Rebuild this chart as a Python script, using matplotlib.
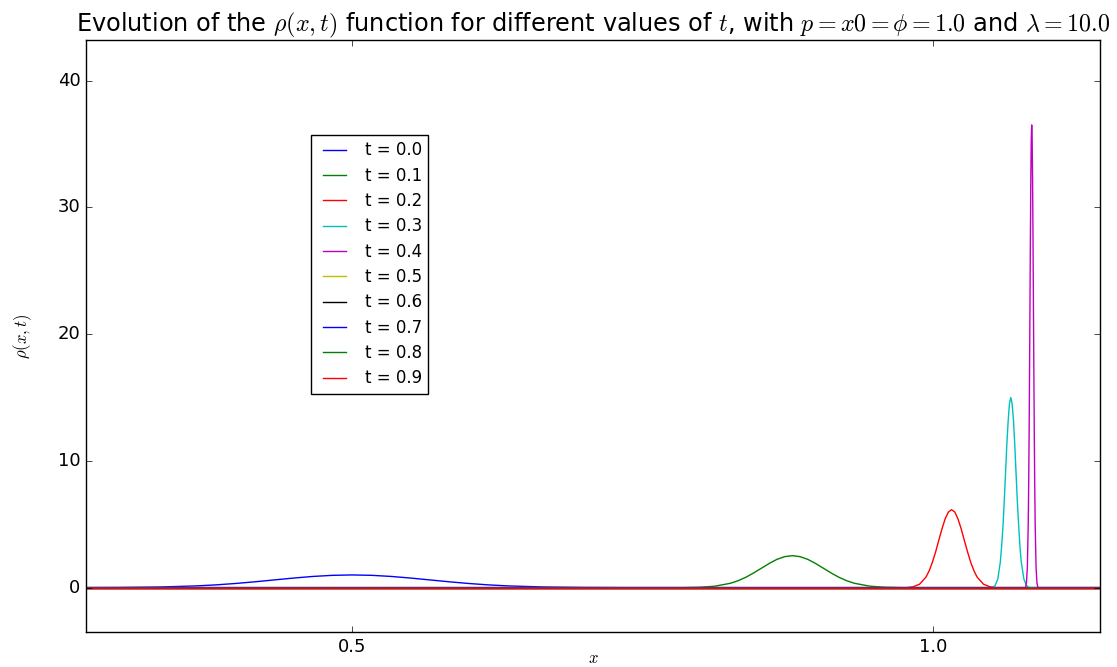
#!/usr/bin/env python3
"""Evolution of rho(x, t) for several t values (classic matplotlib look)."""

import matplotlib

matplotlib.use("Agg")
import matplotlib.pyplot as plt

plt.style.use("classic")

OUTPUT = "out.png"

X_MIN, X_MAX = 0.271, 1.144

T_VALUES = [0.0, 0.1, 0.2, 0.3, 0.4, 0.5, 0.6, 0.7, 0.8, 0.9]
COLORS = ["b", "g", "r", "c", "m", "y", "k", "b", "g", "r"]

# points, one bump per curve (zero elsewhere)
X_T00 = [0.271, 0.299, 0.3325, 0.366, 0.3828, 0.3995, 0.4163, 0.433, 0.4498, 0.4665, 0.4833, 0.5,
         0.5168, 0.5335, 0.5503, 0.567, 0.5838, 0.6005, 0.6173, 0.634, 0.6675, 0.701, 0.7345, 1.144]
RHO_T00 = [0, 0.011, 0.044, 0.135, 0.216, 0.325, 0.458, 0.607, 0.755, 0.883, 0.969, 1.0,
           0.969, 0.883, 0.755, 0.607, 0.458, 0.325, 0.216, 0.135, 0.044, 0.011, 0, 0]

X_T01 = [0.271, 0.7855, 0.7989, 0.8122, 0.8256, 0.8323, 0.839, 0.8456, 0.8523, 0.859, 0.8656, 0.8723, 0.879,
         0.8857, 0.8924, 0.899, 0.9057, 0.9124, 0.919, 0.9257, 0.9324, 0.9458, 0.9591, 0.9725, 1.144]
RHO_T01 = [0, 0, 0.028, 0.111, 0.341, 0.545, 0.818, 1.154, 1.528, 1.902, 2.224, 2.442, 2.52,
           2.442, 2.224, 1.902, 1.528, 1.154, 0.818, 0.545, 0.341, 0.111, 0.028, 0, 0]

X_T02 = [0.271, 0.9775, 0.983, 0.9885, 0.994, 0.9968, 0.9995, 1.0023, 1.005, 1.0078, 1.0105, 1.0133, 1.016,
         1.0188, 1.0215, 1.0243, 1.027, 1.0298, 1.0325, 1.0353, 1.038, 1.0435, 1.049, 1.0545, 1.144]
RHO_T02 = [0, 0, 0.068, 0.27, 0.832, 1.33, 1.997, 2.815, 3.73, 4.642, 5.427, 5.961, 6.15,
           5.961, 5.427, 4.642, 3.73, 2.815, 1.997, 1.33, 0.832, 0.27, 0.068, 0, 0]

X_T03 = [0.271, 1.0513, 1.0535, 1.0558, 1.058, 1.0591, 1.0603, 1.0614, 1.0625, 1.0636, 1.0648, 1.0659, 1.067,
         1.0681, 1.0693, 1.0704, 1.0715, 1.0726, 1.0738, 1.0749, 1.076, 1.0783, 1.0805, 1.0828, 1.144]
RHO_T03 = [0, 0, 0.17, 0.66, 2.03, 3.24, 4.87, 6.87, 9.1, 11.32, 13.24, 14.54, 15.0,
           14.54, 13.24, 11.32, 9.1, 6.87, 4.87, 3.24, 2.03, 0.66, 0.17, 0, 0]

X_T04 = [0.271, 1.07975, 1.0805, 1.08125, 1.082, 1.08238, 1.08275, 1.08313, 1.0835, 1.08388, 1.08425, 1.08463,
         1.085, 1.08538, 1.08575, 1.08613, 1.0865, 1.08688, 1.08725, 1.08763, 1.088, 1.08875, 1.0895, 1.09025, 1.144]
RHO_T04 = [0, 0, 0.41, 1.6, 4.94, 7.9, 11.85, 16.71, 22.14, 27.55, 32.21, 35.38,
           36.5, 35.38, 32.21, 27.55, 22.14, 16.71, 11.85, 7.9, 4.94, 1.6, 0.41, 0, 0]

X_FLAT = [0.271, 1.144]
RHO_FLAT = [0, 0]

CURVES_X = [X_T00, X_T01, X_T02, X_T03, X_T04, X_FLAT, X_FLAT, X_FLAT, X_FLAT, X_FLAT]
CURVES_RHO = [RHO_T00, RHO_T01, RHO_T02, RHO_T03, RHO_T04, RHO_FLAT, RHO_FLAT, RHO_FLAT, RHO_FLAT, RHO_FLAT]

Y_TICKS = [0, 10, 20, 30, 40]
X_TICKS = [0.5, 1.0]


def main():
    fig = plt.figure(figsize=(11.17, 6.67), dpi=100, facecolor="white")
    ax = fig.add_axes([0.077, 0.0525, 0.908, 0.8875])

    for t, xs, rho, color in zip(T_VALUES, CURVES_X, CURVES_RHO, COLORS):
        ax.plot(xs, rho, color=color, linewidth=1.0, label="t = %.1f" % t)

    ax.set_xlim(X_MIN, X_MAX)
    ax.set_ylim(-3.5, 43.2)
    ax.set_xticks(X_TICKS)
    ax.set_yticks(Y_TICKS)
    ax.tick_params(labelsize=13)

    ax.set_title(
        r"Evolution of the $\rho(x,t)$ function for different values of $t$, "
        r"with $p=x0=\phi=1.0$ and $\lambda=10.0$",
        fontsize=17.3,
        pad=6,
    )
    ax.set_xlabel(r"$x$", fontsize=12, labelpad=-5)
    ax.set_ylabel(r"$\rho(x,t)$", fontsize=12, labelpad=17)

    ax.legend(
        loc="upper left",
        bbox_to_anchor=(0.222, 0.84),
        fontsize=12,
        labelspacing=0.44,
        fancybox=False,
        borderaxespad=0.0,
    )

    fig.savefig(OUTPUT, dpi=100, facecolor="white")
    plt.close(fig)


if __name__ == "__main__":
    main()
